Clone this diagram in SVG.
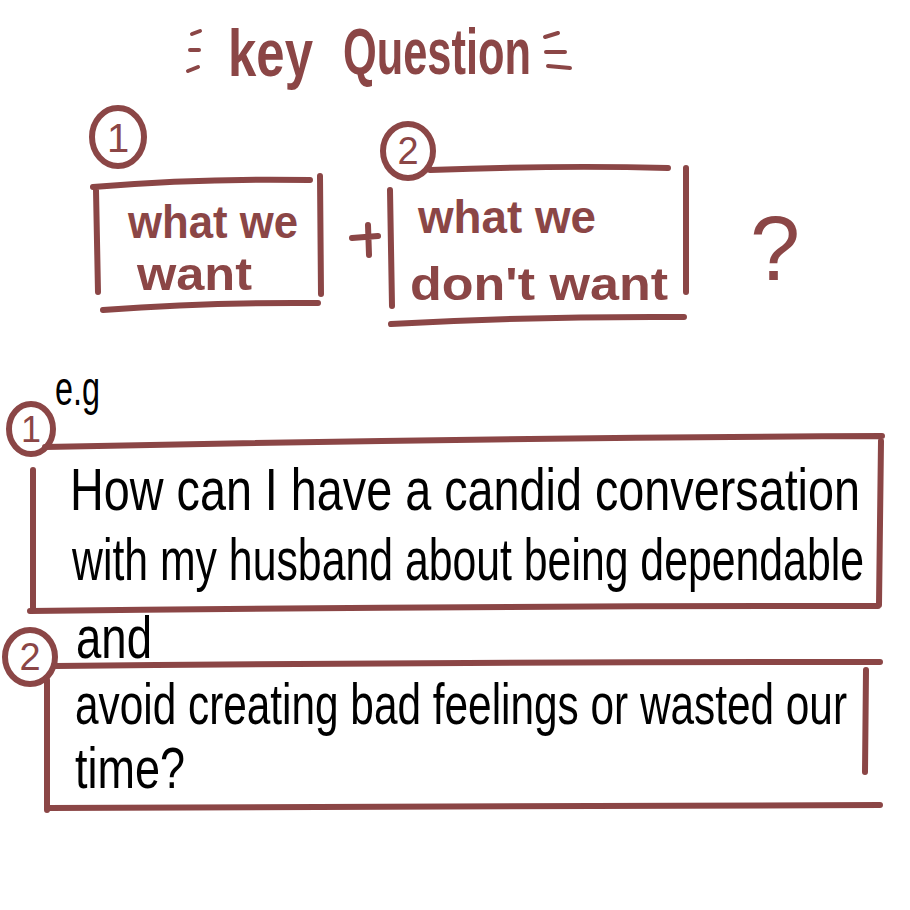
<svg xmlns="http://www.w3.org/2000/svg" width="910" height="910" viewBox="0 0 910 910">
<style>
.ln{fill:none;stroke:#8B4646;stroke-width:6;stroke-linecap:round;stroke-linejoin:round}
.ln2{fill:none;stroke:#8B4646;stroke-width:4;stroke-linecap:round}
.mt{fill:#8B4646;font-family:"Liberation Sans Narrow","Liberation Sans",sans-serif;font-weight:bold}
.num{fill:#8B4646;font-family:"Liberation Sans Narrow","Liberation Sans",sans-serif;font-weight:normal;text-anchor:middle}
.bt{fill:#000;font-family:"Liberation Sans Narrow","Liberation Sans",sans-serif}
</style>
<rect width="910" height="910" fill="#fff"/>
<g id="title">
<path class="ln2" d="M192 34 L200 31 M190 50 L199 50 M188 71 L198 67"/>
<text class="mt" x="228" y="76" font-size="66" textLength="85" lengthAdjust="spacingAndGlyphs">key</text>
<text class="mt" x="343" y="74" font-size="64" textLength="188" lengthAdjust="spacingAndGlyphs">Question</text>
<path class="ln2" d="M545 37 L558 33 M546 52 L565 52 M548 66 L570 68"/>
</g>
<g id="want">
<ellipse class="ln" cx="118" cy="137" rx="26" ry="29"/>
<text class="num" x="118" y="152" font-size="40">1</text>
<path class="ln" d="M93 187 Q200 178 310 180 M96 190 L98 292 M320 176 L321 294 M103 310 Q210 302 318 303"/>
<text class="mt" x="128" y="238" font-size="46" textLength="170" lengthAdjust="spacingAndGlyphs">what we</text>
<text class="mt" x="137" y="290" font-size="46" textLength="115" lengthAdjust="spacingAndGlyphs">want</text>
</g>
<g id="plus">
<path class="ln" d="M352 238 L378 236 M368 225 L369 255"/>
</g>
<g id="dontwant">
<ellipse class="ln" cx="408" cy="151" rx="25" ry="27"/>
<text class="num" x="408" y="164" font-size="38">2</text>
<path class="ln" d="M430 170 Q560 165 668 168 M390 190 L392 306 M686 168 L686 292 M391 324 Q540 316 684 317"/>
<text class="mt" x="418" y="233" font-size="46" textLength="178" lengthAdjust="spacingAndGlyphs">what we</text>
<text class="mt" x="410" y="300" font-size="46" textLength="258" lengthAdjust="spacingAndGlyphs">don't want</text>
</g>
<g id="qmark">
<text class="num" x="775" y="280" font-size="90">?</text>
</g>
<g id="example1">
<ellipse class="ln" cx="31" cy="429" rx="22" ry="25"/>
<text class="num" x="31" y="442" font-size="36">1</text>
<text class="bt" x="55" y="405" font-size="48" textLength="45" lengthAdjust="spacingAndGlyphs">e.g</text>
<path class="ln" d="M45 447 Q460 438 882 436 M33 470 L33 610 M881 441 L879 605 M30 611 Q450 606 878 606"/>
<text class="bt" x="70" y="510" font-size="60" textLength="790" lengthAdjust="spacingAndGlyphs">How can I have a candid conversation</text>
<text class="bt" x="72" y="580" font-size="60" textLength="792" lengthAdjust="spacingAndGlyphs">with my husband about being dependable</text>
</g>
<g id="example2">
<ellipse class="ln" cx="30" cy="657" rx="25" ry="27"/>
<text class="num" x="30" y="670" font-size="38">2</text>
<text class="bt" x="76" y="658" font-size="60" textLength="76" lengthAdjust="spacingAndGlyphs">and</text>
<path class="ln" d="M56 666 Q470 662 880 662 M47 680 L47 810 M866 670 L865 772 M48 808 Q470 806 880 805"/>
<text class="bt" x="75" y="724" font-size="58" textLength="772" lengthAdjust="spacingAndGlyphs">avoid creating bad feelings or wasted our</text>
<text class="bt" x="75" y="788" font-size="58" textLength="110" lengthAdjust="spacingAndGlyphs">time?</text>
</g>
</svg>
